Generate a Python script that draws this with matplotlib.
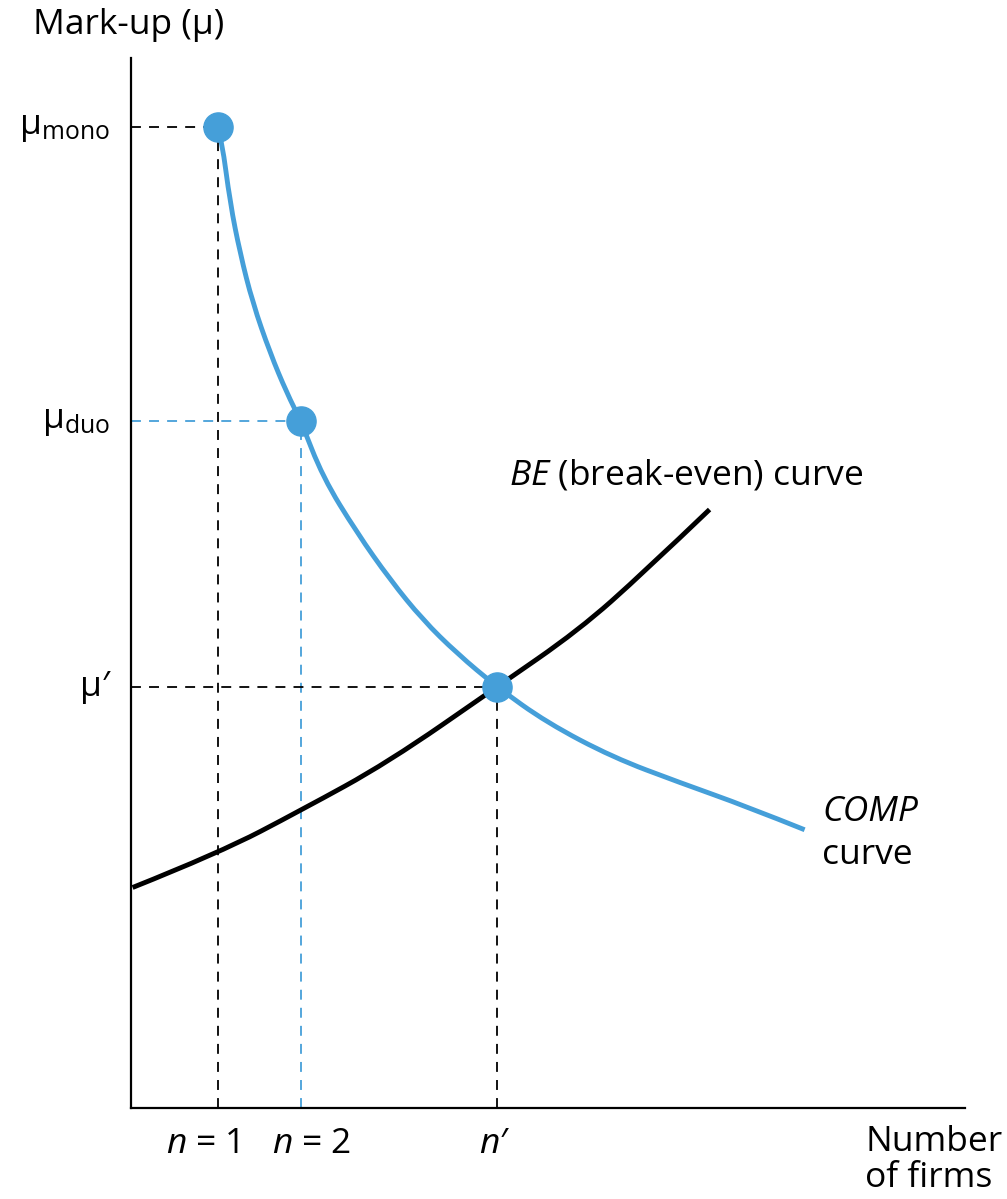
"""
Mark-up vs number of firms: COMP curve and BE (break-even) curve.
"""

import matplotlib
matplotlib.use("Agg")
import matplotlib.pyplot as plt
from matplotlib.path import Path
from matplotlib.patches import PathPatch

# ---------- data ----------

# COMP curve: mark-up falls as the number of firms rises
comp_x = [1.04, 1.09, 1.19, 1.31, 1.46, 1.67, 1.87, 2.04, 2.30, 2.71,
          3.11, 3.50, 3.91, 4.39, 4.99, 5.78, 6.58, 7.39, 8.08]
comp_y = [9.34, 9.22, 8.62, 8.14, 7.67, 7.19, 6.81, 6.54, 6.01, 5.48,
          5.03, 4.65, 4.33, 4.01, 3.67, 3.34, 3.10, 2.87, 2.65]

# BE curve: mark-up needed to break even rises with the number of firms
be_x = [0.02, 1.06, 2.05, 3.08, 4.39, 5.37, 6.15, 6.94]
be_y = [2.10, 2.43, 2.84, 3.29, 4.01, 4.55, 5.10, 5.70]

# marked points
point_n = [1.04, 2.04, 4.39]
point_mu = [9.34, 6.54, 4.01]

y_labels = [r"$\mathrm{μ}_{\mathrm{mono}}$", r"$\mathrm{μ}_{\mathrm{duo}}$", "μ′"]
x_labels = [r"$n$ = 1", r"$n$ = 2", r"$n$′"]

BLUE = "#459fd9"
guide_colors = ["black", BLUE, "black"]

# ---------- style ----------

plt.rcParams["font.family"] = ["Open Sans", "DejaVu Sans"]
plt.rcParams["mathtext.fontset"] = "custom"
plt.rcParams["mathtext.rm"] = "Open Sans"
plt.rcParams["mathtext.it"] = "Open Sans:italic"

FS = 25.5


def smooth_path(xs, ys):
    """Quadratic B-spline path using the read points as control points."""
    pts = list(zip(xs, ys))
    verts = [pts[0]]
    codes = [Path.MOVETO]
    for i in range(1, len(pts) - 1):
        if i < len(pts) - 2:
            end = ((pts[i][0] + pts[i + 1][0]) / 2, (pts[i][1] + pts[i + 1][1]) / 2)
        else:
            end = pts[-1]
        verts += [pts[i], end]
        codes += [Path.CURVE3, Path.CURVE3]
    return Path(verts, codes)


fig = plt.figure(figsize=(10.07, 11.99), dpi=100)
ax = fig.add_axes([0.130, 0.0759, 0.828, 0.8757])
ax.set_xlim(0, 10)
ax.set_ylim(0, 10)

for side in ("top", "right"):
    ax.spines[side].set_visible(False)
for side in ("left", "bottom"):
    ax.spines[side].set_linewidth(1.6)
ax.set_xticks([])
ax.set_yticks([])

# ---------- dashed guides ----------

for n, mu, c in zip(point_n, point_mu, guide_colors):
    ax.plot([0, n], [mu, mu], color=c, lw=1.3, dashes=(5.5, 4.5), zorder=1)
    ax.plot([n, n], [0, mu], color=c, lw=1.3, dashes=(5.5, 4.5), zorder=1)

# ---------- curves ----------

ax.add_patch(PathPatch(smooth_path(be_x, be_y), fill=False, edgecolor="black",
                       lw=3.5, capstyle="butt", zorder=2))
ax.add_patch(PathPatch(smooth_path(comp_x, comp_y), fill=False, edgecolor=BLUE,
                       lw=3.5, capstyle="butt", zorder=3))
ax.plot(point_n, point_mu, "o", color=BLUE, ms=21, zorder=4)

# ---------- labels ----------

for lab, mu in zip(y_labels, point_mu):
    ax.text(-0.25, mu, lab, ha="right", va="center", fontsize=FS, clip_on=False)

x_label_pos = [0.86, 2.17, 4.36]
for lab, xp in zip(x_labels, x_label_pos):
    ax.text(xp, -0.34, lab, ha="center", va="center", fontsize=FS, clip_on=False)

ax.text(-1.18, 10.31, "Mark-up (μ)", ha="left", va="center", fontsize=FS,
        clip_on=False)
ax.text(8.81, -0.32, "Number", ha="left", va="center", fontsize=FS, clip_on=False)
ax.text(8.81, -0.67, "of firms", ha="left", va="center", fontsize=FS, clip_on=False)

ax.text(4.54, 6.03, r"$BE$ (break-even) curve", ha="left", va="center",
        fontsize=FS)
ax.text(8.29, 2.82, "COMP", ha="left", va="center", fontsize=FS, style="italic")
ax.text(8.29, 2.41, "curve", ha="left", va="center", fontsize=FS)

fig.savefig("out.png", dpi=100)
